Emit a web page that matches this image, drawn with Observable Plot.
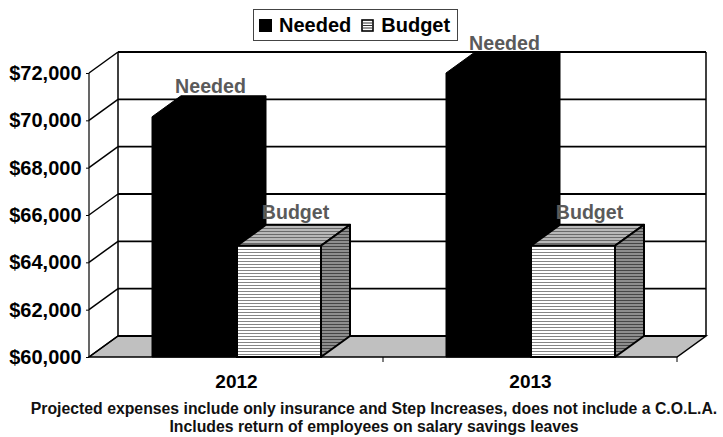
<!DOCTYPE html>
<html>
<head>
<meta charset="utf-8">
<script src="https://cdn.jsdelivr.net/npm/d3@7"></script>
<script src="https://cdn.jsdelivr.net/npm/@observablehq/plot@0.6"></script>
<style>
  body { margin: 0; background: #fff; font-family: "Liberation Sans", Arial, sans-serif; }
  #wrap { position: relative; width: 723px; height: 437px; overflow: hidden; background: #fff; }
  #legend { position: absolute; left: 253px; top: 9px; width: 205px; height: 32px; box-sizing: border-box;
            border: 1px solid #444; background: #fff; display: flex; align-items: center; padding: 0 0 0 5px;
            font-weight: bold; font-size: 20px; color: #000; z-index: 2; }
  #legend .item { display: flex; align-items: center; }
  #legend .item + .item { margin-left: 10px; }
  #legend svg { margin-right: 7px; }
  #caption { position: absolute; left: 0; top: 400px; width: 748px; text-align: center; font-weight: bold;
             font-size: 15.8px; line-height: 18px; color: #111; white-space: nowrap; }
  #chart g[aria-label^="y-axis"] text { font-size: 20px; }
</style>
</head>
<body>
<svg width="0" height="0" style="position:absolute">
  <defs>
    <pattern id="budgetFront" patternUnits="userSpaceOnUse" width="6" height="3">
      <rect width="6" height="3" fill="#ffffff"></rect>
      <rect y="0" width="6" height="1" fill="#858585"></rect>
    </pattern>
    <pattern id="budgetTop" patternUnits="userSpaceOnUse" width="6" height="3">
      <rect width="6" height="3" fill="#b8b8b8"></rect>
      <rect y="0" width="6" height="1" fill="#6a6a6a"></rect>
    </pattern>
    <pattern id="budgetSide" patternUnits="userSpaceOnUse" width="6" height="3">
      <rect width="6" height="3" fill="#8e8e8e"></rect>
      <rect y="0" width="6" height="1" fill="#464646"></rect>
    </pattern>
  </defs>
</svg>
<div id="wrap">
  <div id="chart"></div>
  <div id="legend"></div>
  <div id="caption"></div>
</div>
<script>
// ---- data ----
const years = ["2012", "2013"];
const seriesNames = ["Needed", "Budget"];
const neededValues = [70150, 72000];
const budgetValues = [64700, 64700];
const yTicks = [60000, 62000, 64000, 66000, 68000, 70000, 72000];
const captionLines = [
  "Projected expenses include only insurance and Step Increases, does not include a C.O.L.A.",
  "Includes return of employees on salary savings leaves"
];

const rows = years.flatMap((year, i) => [
  {year, series: seriesNames[0], value: neededValues[i]},
  {year, series: seriesNames[1], value: budgetValues[i]}
]);
const neededRows = rows.filter(d => d.series === "Needed");
const budgetRows = rows.filter(d => d.series === "Budget");
const yMin = yTicks[0], yMax = yTicks[yTicks.length - 1];

// ---- layout / style constants ----
const W = 723, H = 395;
const M = {top: 73, right: 46, bottom: 38, left: 89};
const DX = 29, DY = -21;               // 3D depth offset (px)
const BAR = {Needed: [63, 146], Budget: [148, 62]}; // insetLeft / insetRight within band (px)

function bandOf(scales, dims) {
  const x = scales.x;
  const bw = x && x.bandwidth ? x.bandwidth() : (dims.width - dims.marginLeft - dims.marginRight) / years.length;
  return {x, bw};
}

// structure: floor, walls, side diagonals, axis lines
function structure(index, scales, values, dims) {
  const y = scales.y;
  const {x, bw} = bandOf(scales, dims);
  const L = dims.marginLeft, R = dims.width - dims.marginRight;
  const y0 = y(yMin), yT = y(yMax);
  const g = d3.create("svg:g");
  g.append("path")
    .attr("d", `M${L},${y0}L${R},${y0}L${R + DX},${y0 + DY}L${L + DX},${y0 + DY}Z`)
    .attr("fill", "#c0c0c0").attr("stroke", "#000").attr("stroke-width", 1.5);
  g.append("line").attr("x1", L + DX).attr("x2", L + DX).attr("y1", yT + DY).attr("y2", y0 + DY)
    .attr("stroke", "#000").attr("stroke-width", 1.5);
  g.append("line").attr("x1", R + DX).attr("x2", R + DX).attr("y1", yT + DY).attr("y2", y0 + DY)
    .attr("stroke", "#000").attr("stroke-width", 1.5);
  g.append("line").attr("x1", L).attr("x2", L).attr("y1", yT).attr("y2", y0)
    .attr("stroke", "#000").attr("stroke-width", 1.2);
  for (const t of yTicks) {
    g.append("line").attr("x1", L).attr("y1", y(t)).attr("x2", L + DX).attr("y2", y(t) + DY)
      .attr("stroke", "#000").attr("stroke-width", 1.5);
  }
  for (const yr of years) {
    const xb = x(yr) + bw;
    g.append("line").attr("x1", xb).attr("x2", xb).attr("y1", y0).attr("y2", y0 + 5)
      .attr("stroke", "#000").attr("stroke-width", 1);
  }
  return g.node();
}

// back-wall gridlines (shifted by the depth offset)
function backGrid(index, scales, values, dims) {
  const y = scales.y;
  const L = dims.marginLeft, R = dims.width - dims.marginRight;
  const g = d3.create("svg:g");
  for (const t of yTicks) {
    g.append("line").attr("x1", L + DX).attr("x2", R + DX).attr("y1", y(t) + DY).attr("y2", y(t) + DY)
      .attr("stroke", "#000").attr("stroke-width", 1.8);
  }
  return g.node();
}

// depth faces of the boxes
function depthFaces(data, name) {
  return (index, scales, values, dims) => {
    const y = scales.y;
    const {x, bw} = bandOf(scales, dims);
    const [il, ir] = BAR[name];
    const g = d3.create("svg:g");
    for (const d of data) {
      const x1 = x(d.year) + il, x2 = x(d.year) + bw - ir;
      const yv = y(d.value), yb = y(yMin);
      if (name === "Needed") {
        g.append("path")
          .attr("d", `M${x1},${yv}L${x1 + DX},${yv + DY}L${x2 + DX},${yv + DY}L${x2 + DX},${yb + DY}L${x2},${yb}L${x1},${yb}Z`)
          .attr("fill", "#000").attr("stroke", "#000").attr("stroke-width", 1);
      } else {
        g.append("path")
          .attr("d", `M${x1},${yv}L${x1 + DX},${yv + DY}L${x2 + DX},${yv + DY}L${x2},${yv}Z`)
          .attr("fill", "url(#budgetTop)").attr("stroke", "#000").attr("stroke-width", 2).attr("stroke-linejoin", "round");
        g.append("path")
          .attr("d", `M${x2},${yv}L${x2 + DX},${yv + DY}L${x2 + DX},${yb + DY}L${x2},${yb}Z`)
          .attr("fill", "url(#budgetSide)").attr("stroke", "#000").attr("stroke-width", 2).attr("stroke-linejoin", "round");
      }
    }
    return g.node();
  };
}

const chart = Plot.plot({
  width: W,
  height: H,
  marginTop: M.top,
  marginRight: M.right,
  marginBottom: M.bottom,
  marginLeft: M.left,
  style: {fontFamily: "'Liberation Sans', Arial, sans-serif", fontSize: "19px", fontWeight: "bold", color: "#000", background: "transparent", overflow: "visible"},
  x: {domain: years, padding: 0, label: null, tickSize: 0, tickPadding: 17},
  y: {domain: [yMin, yMax], ticks: yTicks, tickFormat: d => "$" + d3.format(",")(d), label: null, tickSize: 3, tickPadding: 5},
  marks: [
    structure,
    backGrid,
    depthFaces(neededRows, "Needed"),
    Plot.barY(neededRows, {x: "year", y1: () => yMin, y2: "value", fill: "#000", insetLeft: BAR.Needed[0], insetRight: BAR.Needed[1]}),
    depthFaces(budgetRows, "Budget"),
    Plot.barY(budgetRows, {x: "year", y1: () => yMin, y2: "value", fill: "url(#budgetFront)", stroke: "#000", strokeWidth: 2,
      insetLeft: BAR.Budget[0], insetRight: BAR.Budget[1]}),
    Plot.text(neededRows, {x: "year", y: "value", text: "series", dx: -26, dy: -24, lineAnchor: "bottom", fill: "#5a5a5a", fontSize: 19.6, fontWeight: "bold"}),
    Plot.text(budgetRows, {x: "year", y: "value", text: "series", dx: 59, dy: -27, lineAnchor: "bottom", fill: "#5a5a5a", fontSize: 19.6, fontWeight: "bold"})
  ]
});
document.getElementById("chart").appendChild(chart);

// legend
const legend = d3.select("#legend");
seriesNames.forEach(name => {
  const item = legend.append("div").attr("class", "item");
  const sw = item.append("svg").attr("width", 13).attr("height", 13);
  if (name === "Needed") {
    sw.append("rect").attr("x", 0).attr("y", 0).attr("width", 13).attr("height", 13).attr("fill", "#000");
  } else {
    sw.append("rect").attr("x", 1).attr("y", 1).attr("width", 11).attr("height", 11).attr("fill", "#fff").attr("stroke", "#000").attr("stroke-width", 1.6);
    [4, 6.5, 9].forEach(yy => sw.append("line").attr("x1", 2).attr("x2", 11).attr("y1", yy).attr("y2", yy).attr("stroke", "#333").attr("stroke-width", 1));
  }
  item.append("span").text(name);
});

// caption
const cap = d3.select("#caption");
captionLines.forEach(t => cap.append("div").text(t));
</script>
</body>
</html>
